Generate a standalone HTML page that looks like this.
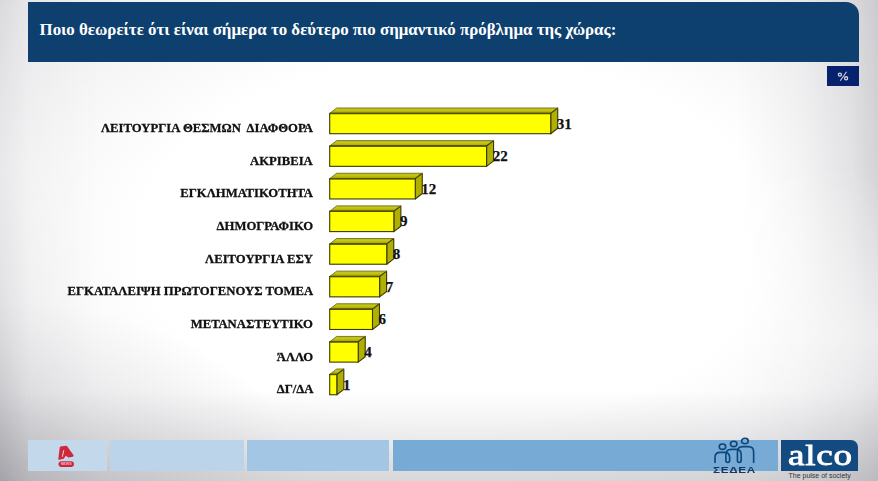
<!DOCTYPE html>
<html><head><meta charset="utf-8">
<style>
html,body{margin:0;padding:0;}
body{width:878px;height:481px;overflow:hidden;position:relative;
background:#fdfdfd;
font-family:"Liberation Serif",serif;}
.hdr{position:absolute;left:28px;top:2px;width:831.4px;height:60px;background:#0d406e;border-top-right-radius:13px;}
.title{position:absolute;left:39.5px;top:19.8px;color:#fff;font-weight:bold;font-size:16.9px;white-space:nowrap;line-height:20px;}
.pct{position:absolute;left:827px;top:66px;width:32px;height:19.5px;background:#06226e;color:#e0e0e0;font:bold 10px "Liberation Sans",sans-serif;text-align:center;line-height:19.5px;}
.lbl{position:absolute;right:564.8px;font-weight:bold;font-size:13.3px;white-space:pre;color:#111;line-height:14px;transform:scaleX(0.955);transform-origin:100% 50%;-webkit-text-stroke:0.3px #111;}
.v{font-family:"Liberation Serif",serif;font-weight:bold;font-size:15px;fill:#111;stroke:#111;stroke-width:0.25px;}
.foot{position:absolute;top:439.5px;height:31px;}
</style></head>
<body>
<div style="position:absolute;left:0;top:0;width:878px;height:481px;background:radial-gradient(ellipse 80% 85% at 52% 50%, #fff 0%, #fff 45%, #ececee 85%, #dcdcdf 100%);"></div>
<div style="position:absolute;left:0;top:0;width:100px;height:481px;background:linear-gradient(to right, rgba(100,100,110,.26), rgba(100,100,110,.08) 30%, rgba(100,100,110,0));-webkit-mask-image:linear-gradient(to bottom, rgba(0,0,0,.45), rgba(0,0,0,.3) 35%, rgba(0,0,0,.6) 70%, #000);"></div>
<div style="position:absolute;left:0;top:300px;width:300px;height:181px;background:radial-gradient(ellipse 100% 100% at 0% 100%, rgba(100,100,110,.18), rgba(100,100,110,0));"></div>
<div style="position:absolute;right:0;top:0;width:140px;height:481px;background:linear-gradient(to left, rgba(100,100,110,.24), rgba(100,100,110,.14) 20%, rgba(100,100,110,.05) 55%, rgba(100,100,110,0));-webkit-mask-image:linear-gradient(to bottom, #000 0%, #000 35%, rgba(0,0,0,.3) 70%, rgba(0,0,0,.8) 100%);"></div>
<div style="position:absolute;left:0;top:390px;width:878px;height:91px;background:linear-gradient(to bottom, rgba(100,100,110,0), rgba(100,100,110,.22));"></div>
<div class="hdr"></div>
<div class="title">Ποιο θεωρείτε ότι είναι σήμερα το δεύτερο πιο σημαντικό πρόβλημα της χώρας:</div>
<div class="pct"></div>
<svg width="878" height="481" style="position:absolute;left:0;top:0"><g fill="none" stroke="#d4d4dc" stroke-width="1.3"><circle cx="839.9" cy="74.6" r="1.55"/><circle cx="846.1" cy="78.3" r="1.55"/><path d="M846.6,71.8 L840.2,80.8" stroke-width="1.1"/></g></svg>
<svg width="878" height="481" style="position:absolute;left:0;top:0">
<defs><linearGradient id="gtop" x1="0" y1="0" x2="0" y2="1"><stop offset="0" stop-color="#b8b830"/><stop offset="0.35" stop-color="#c8c810"/><stop offset="1" stop-color="#a0a000"/></linearGradient></defs>
<polygon points="329.70,113.40 336.70,108.00 557.73,108.00 550.73,113.40" fill="url(#gtop)"/>
<polygon points="550.73,113.40 557.73,108.00 557.73,128.30 550.73,133.70" fill="#b0b000" stroke="#3a3a04" stroke-width="1.1" stroke-linejoin="round"/>
<path d="M329.70,113.40 L336.70,108.00 L557.73,108.00" fill="none" stroke="#7c7c20" stroke-width="1" stroke-linejoin="round"/>
<rect x="329.70" y="113.40" width="221.03" height="20.30" fill="#ffff00" stroke="#3a3a04" stroke-width="1.1"/>
<path d="M329.70,113.40 H550.73" stroke="#505000" stroke-width="1.5"/>
<text x="556.83" y="128.60" class="v">31</text>
<polygon points="329.70,146.03 336.70,140.63 493.56,140.63 486.56,146.03" fill="url(#gtop)"/>
<polygon points="486.56,146.03 493.56,140.63 493.56,160.93 486.56,166.33" fill="#b0b000" stroke="#3a3a04" stroke-width="1.1" stroke-linejoin="round"/>
<path d="M329.70,146.03 L336.70,140.63 L493.56,140.63" fill="none" stroke="#7c7c20" stroke-width="1" stroke-linejoin="round"/>
<rect x="329.70" y="146.03" width="156.86" height="20.30" fill="#ffff00" stroke="#3a3a04" stroke-width="1.1"/>
<path d="M329.70,146.03 H486.56" stroke="#505000" stroke-width="1.5"/>
<text x="492.66" y="161.23" class="v">22</text>
<polygon points="329.70,178.66 336.70,173.26 422.26,173.26 415.26,178.66" fill="url(#gtop)"/>
<polygon points="415.26,178.66 422.26,173.26 422.26,193.56 415.26,198.96" fill="#b0b000" stroke="#3a3a04" stroke-width="1.1" stroke-linejoin="round"/>
<path d="M329.70,178.66 L336.70,173.26 L422.26,173.26" fill="none" stroke="#7c7c20" stroke-width="1" stroke-linejoin="round"/>
<rect x="329.70" y="178.66" width="85.56" height="20.30" fill="#ffff00" stroke="#3a3a04" stroke-width="1.1"/>
<path d="M329.70,178.66 H415.26" stroke="#505000" stroke-width="1.5"/>
<text x="421.36" y="193.86" class="v">12</text>
<polygon points="329.70,211.29 336.70,205.89 400.87,205.89 393.87,211.29" fill="url(#gtop)"/>
<polygon points="393.87,211.29 400.87,205.89 400.87,226.19 393.87,231.59" fill="#b0b000" stroke="#3a3a04" stroke-width="1.1" stroke-linejoin="round"/>
<path d="M329.70,211.29 L336.70,205.89 L400.87,205.89" fill="none" stroke="#7c7c20" stroke-width="1" stroke-linejoin="round"/>
<rect x="329.70" y="211.29" width="64.17" height="20.30" fill="#ffff00" stroke="#3a3a04" stroke-width="1.1"/>
<path d="M329.70,211.29 H393.87" stroke="#505000" stroke-width="1.5"/>
<text x="399.97" y="226.49" class="v">9</text>
<polygon points="329.70,243.92 336.70,238.52 393.74,238.52 386.74,243.92" fill="url(#gtop)"/>
<polygon points="386.74,243.92 393.74,238.52 393.74,258.82 386.74,264.22" fill="#b0b000" stroke="#3a3a04" stroke-width="1.1" stroke-linejoin="round"/>
<path d="M329.70,243.92 L336.70,238.52 L393.74,238.52" fill="none" stroke="#7c7c20" stroke-width="1" stroke-linejoin="round"/>
<rect x="329.70" y="243.92" width="57.04" height="20.30" fill="#ffff00" stroke="#3a3a04" stroke-width="1.1"/>
<path d="M329.70,243.92 H386.74" stroke="#505000" stroke-width="1.5"/>
<text x="392.84" y="259.12" class="v">8</text>
<polygon points="329.70,276.55 336.70,271.15 386.61,271.15 379.61,276.55" fill="url(#gtop)"/>
<polygon points="379.61,276.55 386.61,271.15 386.61,291.45 379.61,296.85" fill="#b0b000" stroke="#3a3a04" stroke-width="1.1" stroke-linejoin="round"/>
<path d="M329.70,276.55 L336.70,271.15 L386.61,271.15" fill="none" stroke="#7c7c20" stroke-width="1" stroke-linejoin="round"/>
<rect x="329.70" y="276.55" width="49.91" height="20.30" fill="#ffff00" stroke="#3a3a04" stroke-width="1.1"/>
<path d="M329.70,276.55 H379.61" stroke="#505000" stroke-width="1.5"/>
<text x="385.71" y="291.75" class="v">7</text>
<polygon points="329.70,309.18 336.70,303.78 379.48,303.78 372.48,309.18" fill="url(#gtop)"/>
<polygon points="372.48,309.18 379.48,303.78 379.48,324.08 372.48,329.48" fill="#b0b000" stroke="#3a3a04" stroke-width="1.1" stroke-linejoin="round"/>
<path d="M329.70,309.18 L336.70,303.78 L379.48,303.78" fill="none" stroke="#7c7c20" stroke-width="1" stroke-linejoin="round"/>
<rect x="329.70" y="309.18" width="42.78" height="20.30" fill="#ffff00" stroke="#3a3a04" stroke-width="1.1"/>
<path d="M329.70,309.18 H372.48" stroke="#505000" stroke-width="1.5"/>
<text x="378.58" y="324.38" class="v">6</text>
<polygon points="329.70,341.81 336.70,336.41 365.22,336.41 358.22,341.81" fill="url(#gtop)"/>
<polygon points="358.22,341.81 365.22,336.41 365.22,356.71 358.22,362.11" fill="#b0b000" stroke="#3a3a04" stroke-width="1.1" stroke-linejoin="round"/>
<path d="M329.70,341.81 L336.70,336.41 L365.22,336.41" fill="none" stroke="#7c7c20" stroke-width="1" stroke-linejoin="round"/>
<rect x="329.70" y="341.81" width="28.52" height="20.30" fill="#ffff00" stroke="#3a3a04" stroke-width="1.1"/>
<path d="M329.70,341.81 H358.22" stroke="#505000" stroke-width="1.5"/>
<text x="364.32" y="357.01" class="v">4</text>
<polygon points="329.70,374.44 336.70,369.04 343.83,369.04 336.83,374.44" fill="url(#gtop)"/>
<polygon points="336.83,374.44 343.83,369.04 343.83,389.34 336.83,394.74" fill="#b0b000" stroke="#3a3a04" stroke-width="1.1" stroke-linejoin="round"/>
<path d="M329.70,374.44 L336.70,369.04 L343.83,369.04" fill="none" stroke="#7c7c20" stroke-width="1" stroke-linejoin="round"/>
<rect x="329.70" y="374.44" width="7.13" height="20.30" fill="#ffff00" stroke="#3a3a04" stroke-width="1.1"/>
<path d="M329.70,374.44 H336.83" stroke="#505000" stroke-width="1.5"/>
<text x="342.93" y="389.64" class="v">1</text>
</svg>
<div class="lbl" style="top:121.1px">ΛΕΙΤΟΥΡΓΙΑ ΘΕΣΜΩΝ  ΔΙΑΦΘΟΡΑ</div>
<div class="lbl" style="top:153.7px">ΑΚΡΙΒΕΙΑ</div>
<div class="lbl" style="top:186.4px">ΕΓΚΛΗΜΑΤΙΚΟΤΗΤΑ</div>
<div class="lbl" style="top:219.0px">ΔΗΜΟΓΡΑΦΙΚΟ</div>
<div class="lbl" style="top:251.6px">ΛΕΙΤΟΥΡΓΙΑ ΕΣΥ</div>
<div class="lbl" style="top:284.2px">ΕΓΚΑΤΑΛΕΙΨΗ ΠΡΩΤΟΓΕΝΟΥΣ ΤΟΜΕΑ</div>
<div class="lbl" style="top:316.9px">ΜΕΤΑΝΑΣΤΕΥΤΙΚΟ</div>
<div class="lbl" style="top:349.5px">ΆΛΛΟ</div>
<div class="lbl" style="top:382.1px">ΔΓ/ΔΑ</div>
<div class="foot" style="left:28px;width:79.2px;background:#c3d8ea"></div>
<div class="foot" style="left:110.3px;width:133.3px;background:#bcd4ea"></div>
<div class="foot" style="left:247px;width:142px;background:#a3c6e4"></div>
<div class="foot" style="left:393px;width:385px;background:#78aad6"></div>
<div class="foot" style="left:781.3px;width:76.7px;background:#134a80;border-top-right-radius:7px"></div>
<svg width="878" height="481" style="position:absolute;left:0;top:0">
<g transform="translate(50,440) scale(0.06653)">
<path d="M160,98 L240,88 Q252,86 260,96 L352,226 Q364,246 342,250 L275,262 L238,238 L206,282 L138,298 Q122,300 125,284 L146,112 Q148,100 160,98 Z" fill="#d0283a"/>
<path d="M206,160 L186,246" stroke="#f6e6ea" stroke-width="14" stroke-linecap="round"/>
<rect x="128" y="318" width="232" height="88" rx="44" fill="#cc2438"/>
<text x="244" y="378" font-family="Liberation Sans" font-weight="bold" font-size="56" fill="#f2b8c0" text-anchor="middle">NEWS</text>
</g>
<g transform="translate(710,436) scale(0.06234)" fill="none" stroke="#0b477b" stroke-width="26">
<ellipse cx="200" cy="172" rx="52" ry="43"/>
<ellipse cx="380" cy="127" rx="52" ry="43"/>
<ellipse cx="560" cy="82" rx="54" ry="43"/>
<path d="M80,432 V345 Q80,262 165,262 H230 Q315,262 315,345 V395 Q315,425 285,425 Q255,425 255,395 V300 Q255,215 340,215 H415 Q500,215 500,300 V395 Q500,425 470,425 Q440,425 440,395 V255 Q440,170 525,170 H615 Q700,170 700,255 V432"/>
</g>
</svg>
<div style="position:absolute;left:713.2px;top:466.2px;font:bold 8.8px 'Liberation Sans',sans-serif;color:#15365e;letter-spacing:0.5px;line-height:9px;transform:scaleX(1.33);transform-origin:0 0;">ΣΕΔΕΑ</div>
<div style="position:absolute;left:788.3px;top:439.6px;font:normal 28.5px 'Liberation Serif',serif;-webkit-text-stroke:0.8px #fff;color:#fff;line-height:32px;letter-spacing:0.6px;transform:scaleX(1.3);transform-origin:0 0;">alco</div>
<div style="position:absolute;left:788.5px;top:472px;font:7px 'Liberation Sans',sans-serif;color:#333;line-height:8px;">The pulse of society</div>
</body></html>
